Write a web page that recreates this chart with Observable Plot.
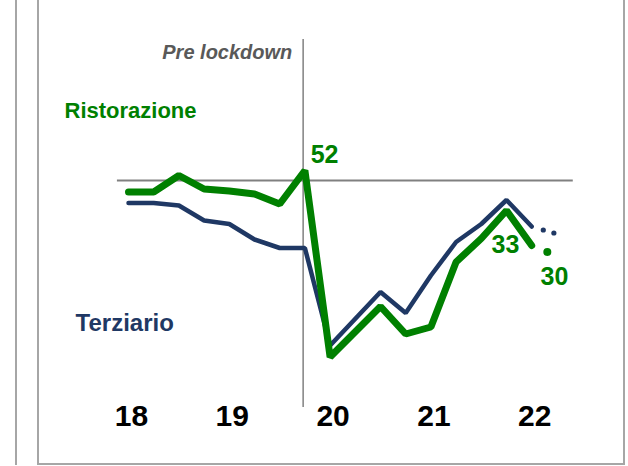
<!DOCTYPE html>
<html>
<head>
<meta charset="utf-8">
<script src="https://cdn.jsdelivr.net/npm/d3@7"></script>
<script src="https://cdn.jsdelivr.net/npm/@observablehq/plot@0.6"></script>
<style>
  html, body { margin: 0; padding: 0; background: #fff; }
  #wrap { position: relative; width: 628px; height: 466px; overflow: hidden; font-family: "Liberation Sans", Arial, sans-serif; }
  .bline { position: absolute; background: #a6a6a6; }
  #chart { position: absolute; left: 0; top: 0; }
</style>
</head>
<body>
<div id="wrap">
  <div class="bline" style="left:15px; top:0; width:2px; height:465px;"></div>
  <div class="bline" style="left:37px; top:0; width:2px; height:465px;"></div>
  <div class="bline" style="left:37px; top:463px; width:588px; height:2px;"></div>
  <div class="bline" style="left:623px; top:0; width:2px; height:465px;"></div>
  <div id="chart"></div>
</div>
<script>
// Quarter index: 0 = first quarter of 2018 ... 16 = first quarter of 2022
const tickQuarters = [0, 4, 8, 12, 16];
const tickLabels = ["18", "19", "20", "21", "22"];

const ristorazioneT = [0, 1, 2, 3, 4, 5, 6, 7, 8, 10, 11, 12, 13, 14, 15, 16];
const ristorazioneV = [47.7, 47.7, 51, 48.3, 47.9, 47.3, 45.3, 52, 14.7, 24.8, 19.3, 20.7, 33.7, 38.4, 44, 37];
const ristorazioneForecastT = [16.62];
const ristorazioneForecastV = [35.7];

const terziarioT = [0, 1, 2, 3, 4, 5, 6, 7, 8, 10, 11, 12, 13, 14, 15, 16];
const terziarioV = [45.5, 45.5, 45, 42, 41.3, 38.2, 36.5, 36.5, 17, 27.7, 23.5, 31, 37.7, 41.3, 46.1, 40.8];
const terziarioForecastT = [16.46, 16.88];
const terziarioForecastV = [40.1, 39.5];

const baseline = 50;
const lockdownT = 6.93;

const GREEN = "#008000";
const NAVY = "#1f3864";
const GRAY = "#808080";

const rist = ristorazioneT.map((t, i) => ({t, v: ristorazioneV[i]}));
const terz = terziarioT.map((t, i) => ({t, v: terziarioV[i]}));
const ristF = ristorazioneForecastT.map((t, i) => ({t, v: ristorazioneForecastV[i]}));
const terzF = terziarioForecastT.map((t, i) => ({t, v: terziarioForecastV[i]}));

const annotations = [
  {t: 7.78, v: 55.2, text: "52", color: GREEN},
  {t: 14.96, v: 37.1, text: "33", color: GREEN},
  {t: 16.9, v: 30.8, text: "30", color: GREEN}
];

const chart = Plot.plot({
  width: 628,
  height: 466,
  marginTop: 0,
  marginLeft: 0,
  marginRight: 0,
  marginBottom: 64,
  style: {fontFamily: "Liberation Sans, Arial, sans-serif", background: "transparent", overflow: "visible"},
  x: {domain: [0, 16], range: [128, 531.2]},
  y: {domain: [0, 60], range: [430, 130], axis: null},
  marks: [
    Plot.ruleY([baseline], {x1: -0.44, x2: 17.65, stroke: GRAY, strokeWidth: 2}),
    Plot.ruleX([lockdownT], {y1: 4.6, y2: 78.2, stroke: GRAY, strokeWidth: 1.5}),
    Plot.line(terz, {x: "t", y: "v", stroke: NAVY, strokeWidth: 4.5, strokeLinejoin: "miter"}),
    Plot.line(rist, {x: "t", y: "v", stroke: GREEN, strokeWidth: 7, strokeLinejoin: "miter"}),
    Plot.dot(terzF, {x: "t", y: "v", r: 2.6, fill: NAVY, stroke: null}),
    Plot.dot(ristF, {x: "t", y: "v", r: 4, fill: GREEN, stroke: null}),
    Plot.text(annotations, {x: "t", y: "v", text: "text", fill: "color", fontSize: 25, fontWeight: "bold"}),
    Plot.text(["Ristorazione"], {x: -2.54, y: 64, text: d => d, textAnchor: "start", fill: GREEN, fontSize: 22, fontWeight: "bold"}),
    Plot.text(["Terziario"], {x: -2.1, y: 21.4, text: d => d, textAnchor: "start", fill: NAVY, fontSize: 24, fontWeight: "bold"}),
    Plot.text(["Pre lockdown"], {x: 6.5, y: 75.5, text: d => d, textAnchor: "end", fill: "#595959", fontSize: 20, fontWeight: "bold", fontStyle: "italic"}),
    Plot.axisX(tickQuarters, {
      tickSize: 0,
      tickPadding: 2,
      tickFormat: (d, i) => tickLabels[i],
      fontSize: 30,
      fontWeight: "bold",
      fill: "#000",
      dx: 3,
      label: null
    })
  ]
});
document.getElementById("chart").appendChild(chart);
</script>
</body>
</html>
